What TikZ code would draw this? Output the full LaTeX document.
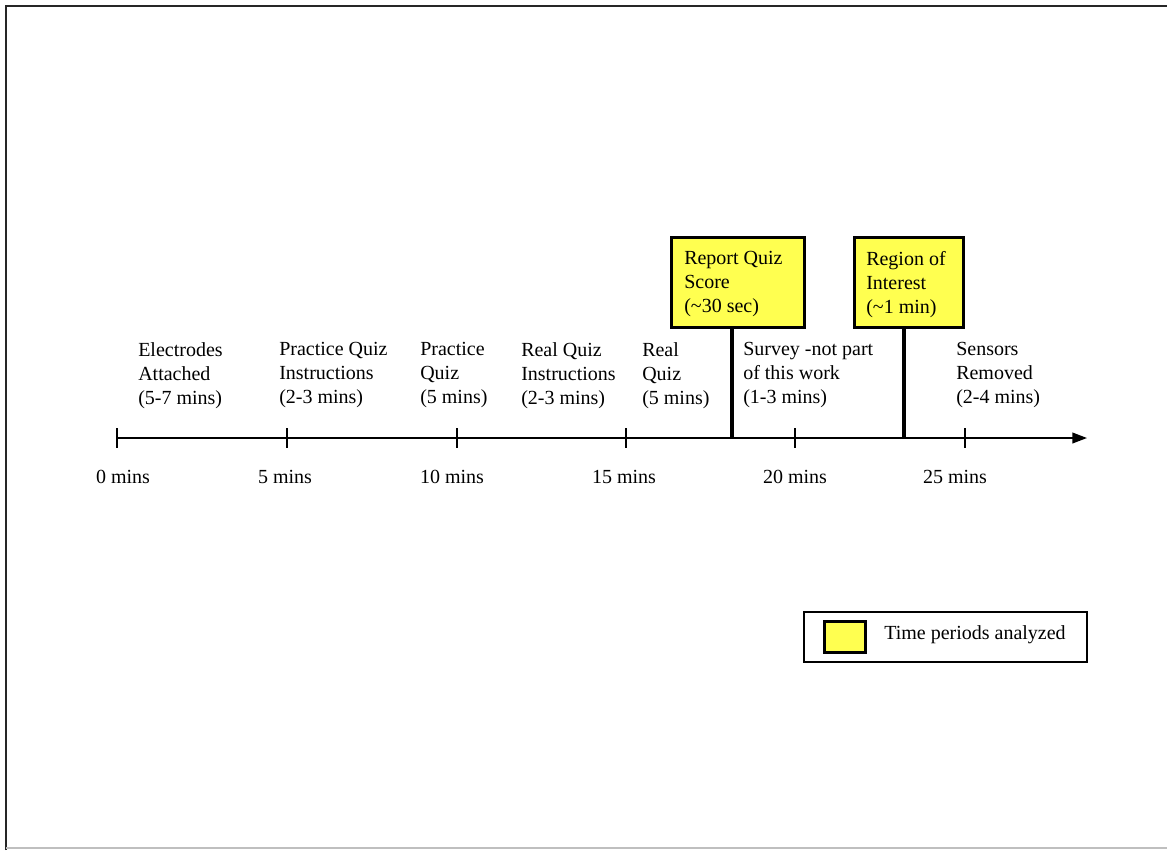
\documentclass[tikz,border=0pt]{standalone}
\usepackage{fontspec}
\setmainfont{Liberation Serif}
\usetikzlibrary{arrows.meta}
\definecolor{hiyellow}{RGB}{255,255,80}
\begin{document}
\begin{tikzpicture}[x=0.75pt,y=-0.75pt,
  lbl/.style={anchor=north west,align=left,font=\fontsize{15}{18}\selectfont,inner sep=0pt},
  tick/.style={font=\fontsize{15}{18}\selectfont,inner sep=0pt},
  hibox/.style={draw=black,line width=2.4pt,fill=hiyellow},
  axis/.style={line width=1.4pt},
  divider/.style={line width=2.4pt}]
\useasboundingbox (0,0) rectangle (1167,850);
% frame
\draw[line width=2pt,black!85] (6,850) -- (6,6) -- (1167,6);
\draw[line width=1pt,black!25] (6,848) -- (1167,848);
% axis
\coordinate (a0) at (117,438);
\coordinate (aend) at (1087,438);
\draw[axis,-{Triangle[length=11pt,width=8pt]}] (a0) -- (aend);
\foreach \x in {117,287,457,626,795,965}{
  \draw[line width=1.4pt] (\x,428) -- (\x,448);
}
\node[tick] (t0) at (123,477) {0 mins};
\node[tick] (t5) at (285,477) {5 mins};
\node[tick] (t10) at (452,477) {10 mins};
\node[tick] (t15) at (624,477) {15 mins};
\node[tick] (t20) at (795,477) {20 mins};
\node[tick] (t25) at (955,477) {25 mins};
% highlight boxes
\node[hibox,minimum width=133*0.75pt,minimum height=90*0.75pt,anchor=north west] (rq) at (670,236) {};
\node[hibox,minimum width=109*0.75pt,minimum height=90*0.75pt,anchor=north west] (roi) at (853,236) {};
\node[lbl] at (684,251) {Report Quiz\\Score\\(\textasciitilde 30 sec)};
\node[lbl] at (866,251) {Region of\\Interest\\(\textasciitilde 1 min)};
\coordinate (rqb) at (732,438);
\coordinate (roib) at (904,438);
\draw[divider] (rq.south -| rqb) -- (rqb);
\draw[divider] (roi.south -| roib) -- (roib);
% phase labels
\node[lbl] (p1) at (138,342) {Electrodes\\Attached\\(5-7 mins)};
\node[lbl] (p2) at (279,342) {Practice Quiz\\Instructions\\(2-3 mins)};
\node[lbl] (p3) at (420,342) {Practice\\Quiz\\(5 mins)};
\node[lbl] (p4) at (521,342) {Real Quiz\\Instructions\\(2-3 mins)};
\node[lbl] (p5) at (642,342) {Real\\Quiz\\(5 mins)};
\node[lbl] (p6) at (743,342) {Survey -not part\\of this work\\(1-3 mins)};
\node[lbl] (p7) at (956,342) {Sensors\\Removed\\(2-4 mins)};
% legend
\node[draw=black,line width=1.4pt,minimum width=283*0.75pt,minimum height=50*0.75pt,anchor=north west] (leg) at (803,611) {};
\node[hibox,minimum width=41*0.75pt,minimum height=31*0.75pt,anchor=north west] (legsq) at (823,620) {};
\node[tick,anchor=west] (legtxt) at (884,635) {Time periods analyzed};
\end{tikzpicture}
\end{document}
